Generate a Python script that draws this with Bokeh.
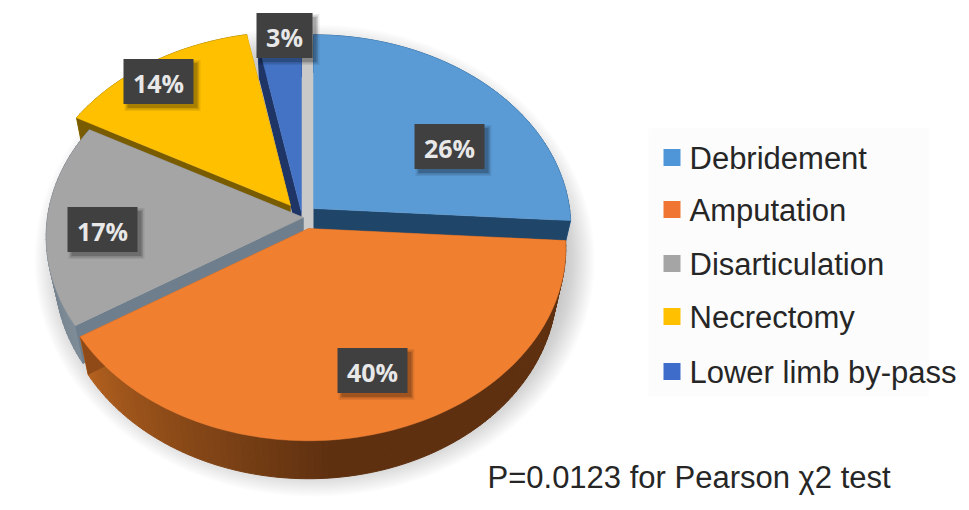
import math
from bokeh.plotting import figure
from bokeh.models import Range1d
from bokeh.core.properties import value
from bokeh.embed import file_html
from bokeh.resources import INLINE

# ---- data ----
categories = ["Debridement", "Amputation", "Disarticulation", "Necrectomy", "Lower limb by-pass"]
percent = [26, 40, 17, 14, 3]
percent_labels = ["26%", "40%", "17%", "14%", "3%"]
note = "P=0.0123 for Pearson χ2 test"

# ---- styles ----
top_colors = ["#5B9BD5", "#F07F30", "#A5A5A5", "#FFC000", "#4472C4"]
cut_colors = ["#1F4568", "#8F4A18", "#6E7E8C", "#7A5C00", "#1E3566"]
# outer-wall shade at the two ends of each slice's visible arc
wall_from = ["#2C5F8C", "#5E3010", "#7E8C98", "#8F6F00", "#26407A"]
wall_to = ["#2C5F8C", "#B5621F", "#66747F", "#8F6F00", "#26407A"]
legend_colors = ["#4E96D8", "#F07533", "#A5A5A5", "#FFC000", "#3D6CCB"]

# ---- layout (reference pixels) ----
centers = [(313, 208), (308, 228), (303, 217), (290, 205), (301, 212)]
RX, RY, PERSP, DEPTH, BASE_SHRINK = 256, 191, 0.10, 38, 0.965
label_xy = [(449, 146), (372, 370), (102, 229), (158, 81), (284, 35)]
legend_y = [157, 209, 263, 316, 371]

W, H = 961, 502
p = figure(width=W, height=H, output_backend="svg", toolbar_location=None,
           x_range=Range1d(0, W), y_range=Range1d(H, 0),
           min_border=0, outline_line_color=None, background_fill_color="white",
           border_fill_color="white")
p.axis.visible = False
p.grid.visible = False
p.xaxis.visible = False
p.yaxis.visible = False


def project(center, deg, frac=1.0):
    a = math.radians(deg)
    u, v = math.sin(a) * frac, -math.cos(a) * frac
    s = 1 / (1 - PERSP * v)
    return center[0] + RX * u * s, center[1] + RY * v * s


def base(center, x, y):
    return center[0] + (x - center[0]) * BASE_SHRINK, y + DEPTH


def mix(c1, c2, t):
    a = [int(c1[i:i + 2], 16) for i in (1, 3, 5)]
    b = [int(c2[i:i + 2], 16) for i in (1, 3, 5)]
    return "#%02x%02x%02x" % tuple(round(x + (y - x) * t) for x, y in zip(a, b))


# soft drop shadow under the disc
n_shadow = 20
for i in range(n_shadow):
    t = i / (n_shadow - 1)
    rx, ry = 280 - 30 * t, 236 - 30 * t
    xs = [314 + rx * math.cos(math.radians(d)) for d in range(0, 360, 3)]
    ys = [260 + ry * math.sin(math.radians(d)) for d in range(0, 360, 3)]
    p.patch(xs, ys, fill_color="#6F8294", fill_alpha=0.024, line_color=None)

# slice angles from the values
starts, ends, acc = [], [], 0.0
for v in percent:
    starts.append(acc * 3.6)
    acc += v
    ends.append(acc * 3.6)

# light strip between the last and the first slice
sx0, sx1 = centers[4][0], centers[0][0]
p.patch([sx0, sx1, sx1, sx0], [centers[0][1] - 165, centers[0][1] - 165, centers[1][1], centers[1][1]],
        fill_color="#C9C9C9", line_color=None)

# painter's order: back to front
for i in [0, 4, 3, 2, 1]:
    c = centers[i]
    a0, a1 = starts[i], ends[i]
    n = max(6, int((a1 - a0) / 1.5))
    angles = [a0 + (a1 - a0) * k / n for k in range(n + 1)]

    # outer wall, in small shaded facets
    for k in range(n):
        x0, y0 = project(c, angles[k])
        x1, y1 = project(c, angles[k + 1])
        bx0, by0 = base(c, x0, y0)
        bx1, by1 = base(c, x1, y1)
        t = k / max(1, n - 1)
        # amputation: dark until the lowest point, then lighter towards the left
        if i == 1:
            t = max(0.0, (angles[k] - 175) / (a1 - 175))
        col = mix(wall_from[i], wall_to[i], t)
        p.patch([x0, x1, bx1, bx0], [y0, y1, by1, by0],
                fill_color=col, line_color=col, line_width=1)

    # cut faces
    for a in (a0, a1):
        x, y = project(c, a)
        bx, by = base(c, x, y)
        p.patch([c[0], x, bx, c[0]], [c[1], y, by, c[1] + DEPTH],
                fill_color=cut_colors[i], line_color=None)

    # top face
    pts = [project(c, a) for a in angles]
    p.patch([c[0]] + [q[0] for q in pts], [c[1]] + [q[1] for q in pts],
            fill_color=top_colors[i], line_color=top_colors[i], line_width=0.5)

# percentage labels
for txt, (lx, ly) in zip(percent_labels, label_xy):
    bw = 56 if len(txt) == 2 else 70
    for grow, alpha in ((6, 0.08), (3, 0.12), (0, 0.18)):
        p.rect([lx + 4], [ly + 4], width=bw + grow, height=45 + grow,
               fill_color="#000000", fill_alpha=alpha, line_color=None)
    p.rect([lx], [ly], width=bw, height=45, fill_color="#404040", line_color=None)
    p.text([lx], [ly + 1], text=[txt], text_color="#E8E8E8", text_font=value("Open Sans"),
           text_font_size="25px", text_font_style="bold", text_align="center", text_baseline="middle")

# legend panel, squares and names
p.rect([788], [262], width=280, height=268, fill_color="#FCFCFC", line_color=None)
for name, col, ly in zip(categories, legend_colors, legend_y):
    p.rect([671.5], [ly], width=17, height=17, fill_color=col, line_color=None)
    p.text([689], [ly + 1], text=[name], text_color="#262626", text_font=value("Liberation Sans"),
           text_font_size="31px", text_align="left", text_baseline="middle")

p.text([487], [477], text=[note], text_color="#262626", text_font=value("Liberation Sans"),
       text_font_size="31px", text_align="left", text_baseline="middle")

open("out.html", "w").write(file_html(p, INLINE))
